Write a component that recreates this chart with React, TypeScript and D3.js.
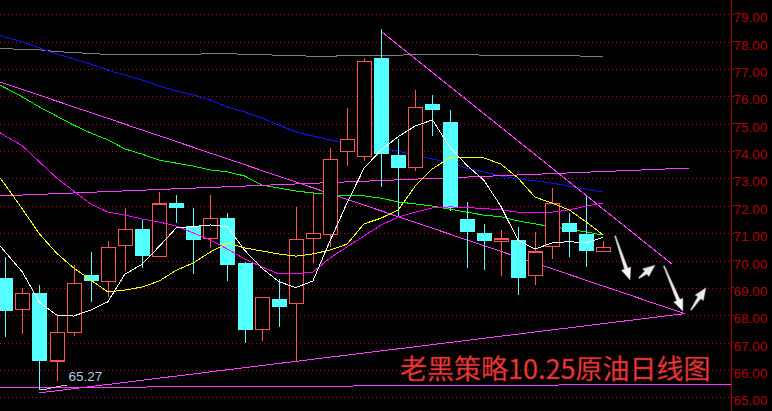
import React from 'react';
import * as d3 from 'd3';

const W = 772;
const H = 411;
const AXIS_X = 731;

// Daily candles (oldest → newest)
const opens = [69.37, 68.2, 68.81, 66.33, 67.38, 69.47, 69.23, 70.54, 71.15, 70.15, 72.11, 71.26, 70.81, 71.55, 69.92, 67.49, 68.59, 68.44, 70.8, 70.96, 73.99, 73.81, 77.4, 73.86, 73.41, 75.72, 75.06, 71.52, 71.0, 70.7, 70.75, 69.45, 70.51, 71.37, 70.97, 70.32];
const highs = [70.14, 68.99, 69.1, 68.0, 69.84, 70.32, 70.71, 71.91, 71.48, 72.49, 72.39, 71.92, 72.4, 71.75, 69.95, 68.66, 69.33, 71.95, 72.49, 74.1, 75.56, 77.4, 78.46, 74.44, 76.23, 76.05, 75.5, 72.13, 71.33, 71.12, 71.24, 71.04, 72.66, 71.75, 72.36, 70.7];
const lows = [67.2, 67.31, 65.27, 65.6, 67.25, 68.5, 68.68, 69.63, 69.74, 70.12, 71.38, 69.5, 70.47, 69.26, 66.98, 67.06, 67.58, 66.3, 69.9, 70.5, 73.47, 73.65, 72.7, 71.58, 73.28, 74.56, 71.82, 69.74, 69.65, 69.45, 68.74, 69.12, 70.06, 70.14, 69.78, 70.32];
const closes = [68.17, 68.8, 66.33, 67.38, 69.17, 69.26, 70.48, 71.14, 70.17, 72.07, 71.93, 70.75, 71.54, 69.84, 67.46, 68.66, 68.31, 70.78, 71.0, 73.7, 74.43, 77.28, 73.89, 73.39, 75.6, 75.51, 71.91, 71.05, 70.72, 70.79, 69.37, 70.31, 72.09, 71.05, 70.36, 70.48];

// Moving averages, first value belongs to the day before the first candle
const maWhite = [71.04, 70.31, 69.58, 68.47, 68.01, 67.97, 68.19, 68.49, 69.5, 69.86, 70.51, 71.19, 71.24, 71.3, 71.24, 70.38, 69.73, 69.23, 69.01, 69.25, 70.71, 72.1, 73.38, 74.04, 74.53, 74.92, 75.14, 74.16, 73.49, 72.94, 71.99, 70.75, 70.42, 70.64, 70.69, 70.64, 70.85];
const maYellow = [73.6, 72.76, 71.88, 70.97, 70.27, 69.73, 69.29, 68.85, 68.92, 69.03, 69.25, 69.64, 69.91, 70.31, 70.64, 70.46, 70.35, 70.24, 70.16, 70.24, 70.38, 70.6, 71.34, 71.55, 71.85, 72.73, 73.35, 73.75, 73.78, 73.75, 73.53, 73.02, 72.32, 72.1, 71.85, 71.41, 70.93];
const maMagenta = [74.95, 74.55, 74.19, 73.6, 73.02, 72.54, 72.07, 71.77, 71.66, 71.52, 71.41, 71.26, 71.01, 70.75, 70.42, 70.06, 69.77, 69.51, 69.51, 69.58, 70.09, 70.5, 70.9, 71.3, 71.59, 71.77, 71.92, 71.96, 71.94, 71.9, 71.85, 71.77, 71.74, 71.77, 71.85, 71.99, 72.1];
const maGreen = [76.64, 76.31, 75.98, 75.61, 75.28, 74.95, 74.66, 74.41, 74.08, 73.89, 73.67, 73.56, 73.45, 73.31, 73.24, 73.09, 72.76, 72.65, 72.54, 72.47, 72.41, 72.36, 72.36, 72.28, 72.14, 72.07, 71.99, 71.88, 71.77, 71.66, 71.6, 71.45, 71.34, 71.23, 71.15, 71.04, 70.93];
const maBlue = [78.37, 78.17, 77.99, 77.77, 77.55, 77.37, 77.18, 76.96, 76.78, 76.6, 76.38, 76.2, 76.05, 75.87, 75.61, 75.43, 75.21, 74.95, 74.7, 74.55, 74.41, 74.26, 74.19, 74.11, 74.0, 73.86, 73.71, 73.57, 73.38, 73.24, 73.09, 72.98, 72.91, 72.83, 72.72, 72.61, 72.5];
const maGray = [77.77, 77.75, 77.71, 77.7, 77.64, 77.6, 77.57, 77.53, 77.53, 77.53, 77.53, 77.53, 77.53, 77.57, 77.57, 77.53, 77.53, 77.5, 77.5, 77.46, 77.46, 77.5, 77.5, 77.5, 77.5, 77.54, 77.54, 77.54, 77.54, 77.5, 77.5, 77.5, 77.5, 77.5, 77.5, 77.46, 77.46];

const priceTicks = [65, 66, 67, 68, 69, 70, 71, 72, 73, 74, 75, 76, 77, 78, 79];

// Hand-drawn trend lines: [candle index, price] endpoints
const trendFromLeft: [number, number][] = [[-0.31, 76.53], [39.66, 68.08]];
const trendFromPeak: [number, number][] = [[22.03, 78.36], [39.02, 69.87]];
const trendFlat: [number, number][] = [[-0.31, 72.36], [40.02, 73.38]];
const trendSupport: [number, number][] = [[1.97, 65.16], [39.78, 68.06]];
const baseLine: [number, number][] = [[-0.31, 65.35], [42.5, 65.48]];

// Projected path arrows: [tail, head]
const arrows: [[number, number], [number, number]][] = [
  [[35.69, 70.9], [36.56, 69.29]],
  [[37.09, 69.36], [38.03, 69.83]],
  [[38.55, 69.8], [39.66, 68.15]],
  [[40.13, 68.19], [41.01, 69.0]],
];

const lowIndex = 2;
const lowLabel = '65.27';
const title = '老黑策略10.25原油日线图';

const UP = '#ff5454';
const DOWN = '#54ffff';

export default function App() {
  const x = d3.scaleLinear().domain([0, 35]).range([5.3, 603.3]);
  const y = d3.scaleLinear().domain([65, 79]).range([397.3, 14.3]);
  const halfBody = 7.2;

  const maLine = d3
    .line<number>()
    .x((_, i) => x(i - 1))
    .y((d) => y(d));
  const ptLine = d3
    .line<[number, number]>()
    .x((d) => x(d[0]))
    .y((d) => y(d[1]));

  const arrowPath = (tail: [number, number], head: [number, number]) => {
    const tx = x(tail[0]);
    const ty = y(tail[1]);
    const hx = x(head[0]);
    const hy = y(head[1]);
    const len = Math.hypot(hx - tx, hy - ty);
    const ux = (hx - tx) / len;
    const uy = (hy - ty) / len;
    const nx = -uy;
    const ny = ux;
    const headLen = 12;
    const bx = hx - ux * headLen;
    const by = hy - uy * headLen;
    const pts: [number, number][] = [
      [tx + nx * 0.6, ty + ny * 0.6],
      [bx + nx * 1.8, by + ny * 1.8],
      [bx + nx * 5, by + ny * 5],
      [hx, hy],
      [bx - nx * 5, by - ny * 5],
      [bx - nx * 1.8, by - ny * 1.8],
      [tx - nx * 0.6, ty - ny * 0.6],
    ];
    return 'M' + pts.map((p) => p.join(',')).join('L') + 'Z';
  };

  const lowX = x(lowIndex);
  const lowY = y(lows[lowIndex]);
  const crisp = 'crispEdges';

  return (
    <svg
      width={W}
      height={H}
      style={{ position: 'absolute', left: 0, top: 0, display: 'block' }}
      fontFamily="'Liberation Sans', Arial, sans-serif"
    >
      <defs>
        <clipPath id="plot">
          <rect x={0} y={0} width={AXIS_X} height={H} />
        </clipPath>
        <linearGradient id="arrowFill" x1="0" y1="0" x2="1" y2="1">
          <stop offset="0%" stopColor="#d8d8d8" />
          <stop offset="100%" stopColor="#ffffff" />
        </linearGradient>
      </defs>
      <rect x={0} y={0} width={W} height={H} fill="#000" />

      {/* grid */}
      {priceTicks.map((t) => (
        <line
          key={'g' + t}
          x1={0}
          x2={AXIS_X}
          y1={Math.round(y(t)) + 0.5}
          y2={Math.round(y(t)) + 0.5}
          stroke="#c80000"
          strokeDasharray="1,3"
          shapeRendering={crisp}
        />
      ))}

      <g clipPath="url(#plot)">
        {/* moving averages */}
        <path d={maLine(maGray) || ''} fill="none" stroke="#808080" strokeWidth={1} shapeRendering={crisp} />
        <path d={maLine(maBlue) || ''} fill="none" stroke="#1010ff" strokeWidth={1} shapeRendering={crisp} />
        <path d={maLine(maGreen) || ''} fill="none" stroke="#00ff00" strokeWidth={1} shapeRendering={crisp} />

        {/* trend lines */}
        {[trendFromLeft, trendFromPeak, trendFlat, trendSupport, baseLine].map((t, k) => (
          <path
            key={'t' + k}
            d={ptLine(t) || ''}
            fill="none"
            stroke="#ff3cff"
            strokeWidth={1}
            shapeRendering={crisp}
          />
        ))}

        {/* candles */}
        {opens.map((o, i) => {
          const c = closes[i];
          const up = c >= o;
          const cx = Math.round(x(i)) + 0.5;
          const top = y(Math.max(o, c));
          const bot = y(Math.min(o, c));
          const color = up ? UP : DOWN;
          return (
            <g key={'c' + i} shapeRendering={crisp}>
              {up ? (
                <>
                  <line x1={cx} x2={cx} y1={y(highs[i])} y2={top} stroke={color} />
                  <line x1={cx} x2={cx} y1={bot} y2={y(lows[i])} stroke={color} />
                  <rect
                    x={cx - halfBody}
                    y={top}
                    width={halfBody * 2}
                    height={Math.max(bot - top, 1)}
                    fill="#000"
                    stroke={color}
                    strokeWidth={1.3}
                  />
                </>
              ) : (
                <>
                  <line x1={cx} x2={cx} y1={y(highs[i])} y2={y(lows[i])} stroke={color} />
                  <rect
                    x={cx - halfBody - 0.5}
                    y={top}
                    width={halfBody * 2 + 1}
                    height={Math.max(bot - top, 1.5)}
                    fill={color}
                  />
                </>
              )}
            </g>
          );
        })}

        <path d={maLine(maMagenta) || ''} fill="none" stroke="#ff00ff" strokeWidth={1} shapeRendering={crisp} />
        <path d={maLine(maYellow) || ''} fill="none" stroke="#ffff00" strokeWidth={1} shapeRendering={crisp} />
        <path d={maLine(maWhite) || ''} fill="none" stroke="#ffffff" strokeWidth={1} shapeRendering={crisp} />

        {/* lowest-price marker */}
        <polyline
          points={`${lowX},${lowY} ${lowX + 6},${lowY - 0.5} ${lowX + 12},${lowY - 2} ${lowX + 22},${lowY - 4} ${lowX + 28},${lowY - 5}`}
          fill="none"
          stroke="#c8c8c8"
          strokeWidth={1}
          shapeRendering={crisp}
        />
        <text x={lowX + 29} y={lowY - 8.5} fontSize={13.5} fill="#b4cde6">
          {lowLabel}
        </text>

        {/* arrows */}
        {arrows.map((a, k) => (
          <path key={'a' + k} d={arrowPath(a[0], a[1])} fill="url(#arrowFill)" stroke="#9a9a9a" strokeWidth={0.6} />
        ))}
      </g>

      {/* price axis */}
      <line x1={AXIS_X + 0.5} x2={AXIS_X + 0.5} y1={0} y2={H} stroke="#a80000" strokeWidth={1} />
      {priceTicks.map((t) => (
        <g key={'l' + t}>
          <line x1={AXIS_X} x2={AXIS_X + 3} y1={y(t)} y2={y(t)} stroke="#a80000" shapeRendering={crisp} />
          <text x={AXIS_X + 2.5} y={y(t) + 8} fontSize={13.5} fill="#b00000">
            {t.toFixed(2)}
          </text>
        </g>
      ))}

      {/* title */}
      <text
        x={400}
        y={379}
        fontSize={27}
        fill="#f23c3c"
        stroke="#a01818"
        strokeWidth={0.5}
        fontFamily="'Noto Sans CJK SC', sans-serif"
      >
        {title}
      </text>
    </svg>
  );
}
